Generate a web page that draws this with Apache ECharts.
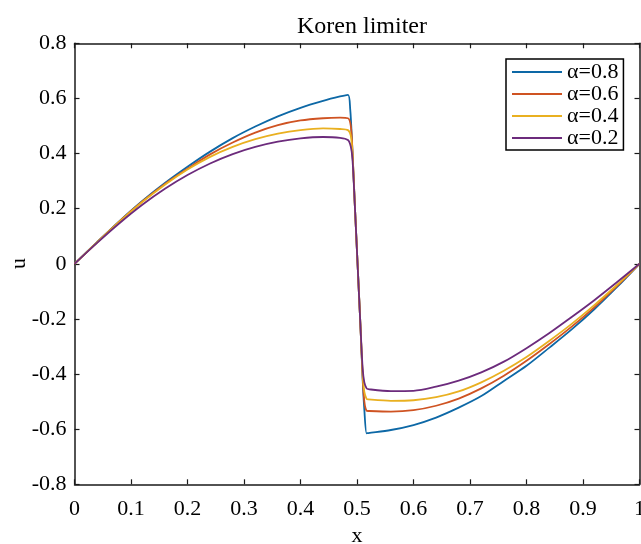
<!DOCTYPE html>
<html>
<head>
<meta charset="utf-8">
<script src="https://cdn.jsdelivr.net/npm/echarts@6/dist/echarts.min.js"></script>
<style>
  html, body { margin: 0; padding: 0; background: #fff; }
  #chart { width: 641px; height: 544px; }
</style>
</head>
<body>
<div id="chart"></div>
<script>
// Solution profiles u(x) for the Koren limiter at four values of alpha
const seriesNames = ['α=0.8', 'α=0.6', 'α=0.4', 'α=0.2'];

const alpha08 = [[0,0],[0.04,0.079],[0.08,0.156],[0.12,0.228],[0.16,0.293],[0.2,0.352],[0.24,0.407],[0.28,0.456],[0.32,0.498],[0.36,0.535],[0.4,0.566],[0.44,0.591],[0.47,0.607],[0.484,0.613],[0.488,0.56],[0.491,0.45],[0.496,0.22],[0.501,0],[0.506,-0.22],[0.51,-0.42],[0.513,-0.53],[0.517,-0.615],[0.52,-0.614],[0.56,-0.603],[0.6,-0.585],[0.64,-0.558],[0.68,-0.522],[0.72,-0.48],[0.76,-0.425],[0.8,-0.37],[0.84,-0.305],[0.88,-0.238],[0.92,-0.165],[0.96,-0.085],[1,0]];

const alpha06 = [[0,0],[0.04,0.078],[0.08,0.155],[0.12,0.226],[0.16,0.29],[0.2,0.345],[0.24,0.397],[0.28,0.44],[0.32,0.476],[0.36,0.503],[0.4,0.52],[0.44,0.528],[0.47,0.53],[0.484,0.528],[0.489,0.5],[0.492,0.41],[0.496,0.22],[0.501,0],[0.506,-0.22],[0.51,-0.41],[0.513,-0.5],[0.517,-0.533],[0.52,-0.534],[0.56,-0.536],[0.6,-0.531],[0.64,-0.515],[0.68,-0.489],[0.72,-0.452],[0.76,-0.406],[0.8,-0.352],[0.84,-0.292],[0.88,-0.228],[0.92,-0.158],[0.96,-0.081],[1,0]];

const alpha04 = [[0,0],[0.04,0.078],[0.08,0.154],[0.12,0.224],[0.16,0.287],[0.2,0.342],[0.24,0.388],[0.28,0.424],[0.32,0.452],[0.36,0.472],[0.4,0.485],[0.44,0.491],[0.47,0.489],[0.484,0.485],[0.489,0.465],[0.492,0.4],[0.496,0.22],[0.501,0],[0.506,-0.22],[0.51,-0.4],[0.513,-0.465],[0.517,-0.49],[0.52,-0.492],[0.56,-0.497],[0.6,-0.495],[0.64,-0.484],[0.68,-0.463],[0.72,-0.43],[0.76,-0.388],[0.8,-0.338],[0.84,-0.28],[0.88,-0.218],[0.92,-0.15],[0.96,-0.077],[1,0]];

const alpha02 = [[0,0],[0.04,0.076],[0.08,0.148],[0.12,0.214],[0.16,0.272],[0.2,0.322],[0.24,0.364],[0.28,0.398],[0.32,0.424],[0.36,0.443],[0.4,0.455],[0.44,0.46],[0.47,0.457],[0.484,0.449],[0.489,0.425],[0.492,0.38],[0.496,0.22],[0.501,0],[0.506,-0.22],[0.51,-0.38],[0.513,-0.43],[0.517,-0.452],[0.52,-0.455],[0.56,-0.462],[0.6,-0.461],[0.64,-0.446],[0.68,-0.424],[0.72,-0.394],[0.76,-0.355],[0.8,-0.306],[0.84,-0.252],[0.88,-0.193],[0.92,-0.132],[0.96,-0.067],[1,0]];

const xTickLabels = ['0', '0.1', '0.2', '0.3', '0.4', '0.5', '0.6', '0.7', '0.8', '0.9', '1'];
const yTickLabels = ['-0.8', '-0.6', '-0.4', '-0.2', '0', '0.2', '0.4', '0.6', '0.8'];

const colors = ['#0d68a6', '#cf5322', '#e9b020', '#6c2b7c'];
const FONT = 'Liberation Serif';
const axisColor = '#1a1a1a';

const chart = echarts.init(document.getElementById('chart'), null, { renderer: 'canvas' });

const frameAxis = {
  axisLine: { show: true, onZero: false, lineStyle: { color: axisColor, width: 1.5 } },
  axisTick: { show: true, inside: true, length: 5, lineStyle: { color: axisColor, width: 1.2 } },
  splitLine: { show: false }
};

const xLabel = v => xTickLabels[Math.round(v * 10)];
const yLabel = v => yTickLabels[Math.round((v + 0.8) * 5)];

chart.setOption({
  animation: false,
  backgroundColor: '#fff',
  title: {
    text: 'Koren limiter',
    left: 357, top: 10, textAlign: 'center',
    textStyle: { fontFamily: FONT, fontSize: 24, fontWeight: 'normal', color: '#000' }
  },
  grid: { left: 74.5, right: 1.5, top: 43.3, bottom: 59.7, containLabel: false, outerBoundsMode: 'none' },
  legend: {
    orient: 'vertical',
    left: 506, top: 59,
    padding: [2, 5, 1, 6],
    itemGap: 0,
    icon: 'rect',
    itemWidth: 50, itemHeight: 2,
    borderColor: '#000', borderWidth: 1.5,
    backgroundColor: '#fff',
    textStyle: { fontFamily: FONT, fontSize: 22, lineHeight: 21.5, color: '#000' },
    data: seriesNames
  },
  // vertical axis title
  graphic: [{
    type: 'text',
    x: 19, y: 263.5,
    rotation: Math.PI / 2,
    style: {
      text: 'u', fill: '#000',
      font: '22px "Liberation Serif"',
      align: 'center', verticalAlign: 'middle'
    }
  }],
  xAxis: [
    Object.assign({
      type: 'value', min: 0, max: 1, interval: 0.1, position: 'bottom',
      name: 'x', nameLocation: 'middle', nameGap: 40,
      nameTextStyle: { fontFamily: FONT, fontSize: 22, color: '#000' },
      axisLabel: { fontFamily: FONT, fontSize: 22, color: '#000', margin: 14, formatter: xLabel }
    }, frameAxis),
    Object.assign({
      type: 'value', min: 0, max: 1, interval: 0.1, position: 'top',
      axisLabel: { show: false }
    }, frameAxis)
  ],
  yAxis: [
    Object.assign({
      type: 'value', min: -0.8, max: 0.8, interval: 0.2, position: 'left',
      axisLabel: { fontFamily: FONT, fontSize: 22, color: '#000', margin: 8, formatter: yLabel }
    }, frameAxis),
    Object.assign({
      type: 'value', min: -0.8, max: 0.8, interval: 0.2, position: 'right',
      axisLabel: { show: false }
    }, frameAxis)
  ],
  series: [alpha08, alpha06, alpha04, alpha02].map((d, i) => ({
    name: seriesNames[i],
    type: 'line',
    data: d,
    symbol: 'none',
    smooth: 0.3,
    xAxisIndex: 0, yAxisIndex: 0,
    lineStyle: { color: colors[i], width: 1.8 },
    itemStyle: { color: colors[i] }
  }))
});
</script>
</body>
</html>
